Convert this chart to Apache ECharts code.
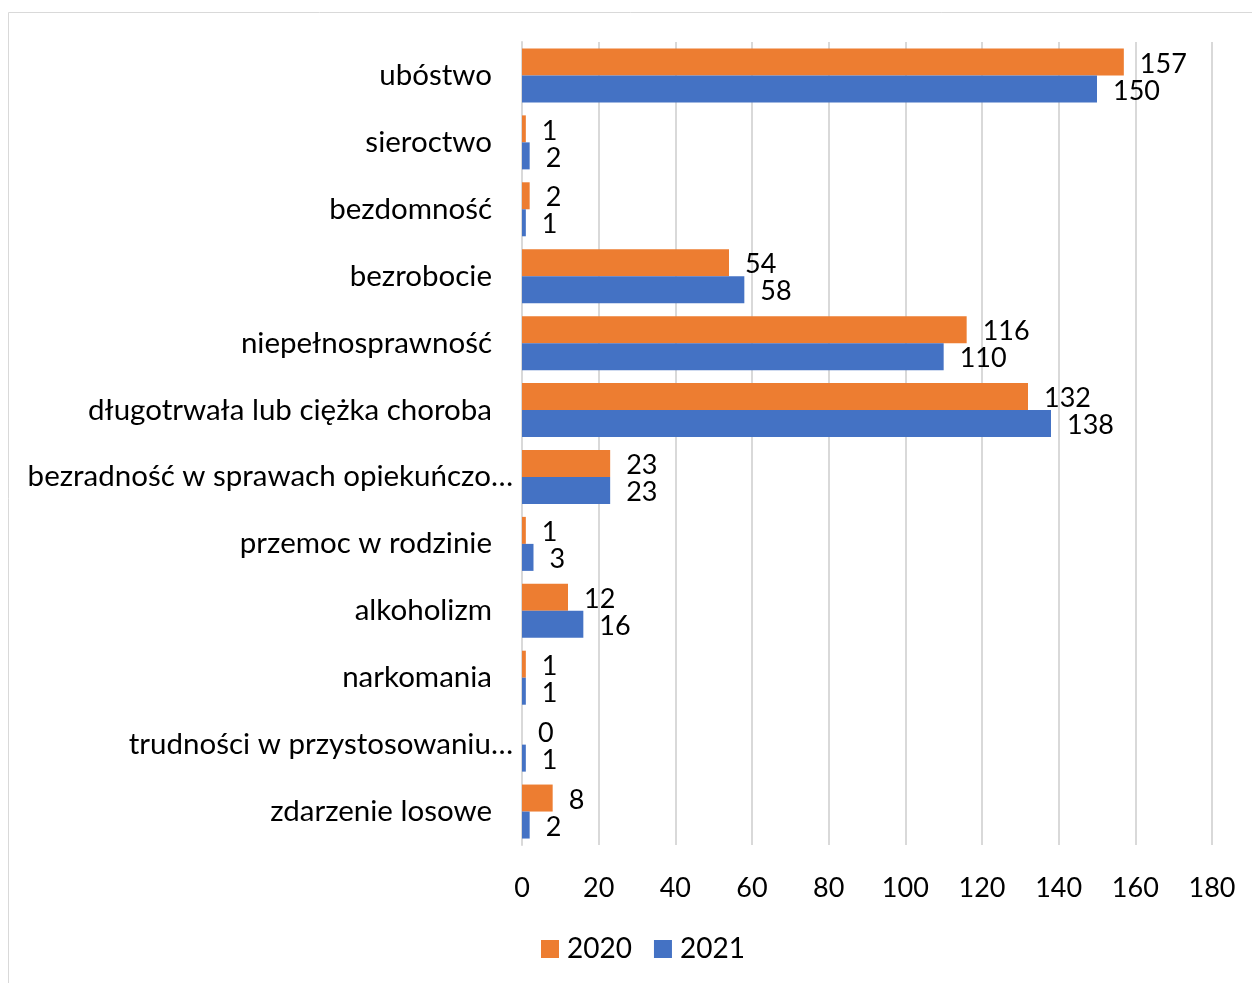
<!DOCTYPE html>
<html>
<head>
<meta charset="utf-8">
<script src="https://cdn.jsdelivr.net/npm/echarts@6/dist/echarts.min.js"></script>
<style>
  html, body { margin: 0; padding: 0; background: #fff; }
  #chart { width: 1252px; height: 983px; }
</style>
</head>
<body>
<div id="chart"></div>
<script>
// Categories top to bottom
const categories = [
    'ubóstwo',
    'sieroctwo',
    'bezdomność',
    'bezrobocie',
    'niepełnosprawność',
    'długotrwała lub ciężka choroba',
    'bezradność w sprawach opiekuńczo…',
    'przemoc w rodzinie',
    'alkoholizm',
    'narkomania',
    'trudności w przystosowaniu…',
    'zdarzenie losowe'
];
const values2020 = [157, 1, 2, 54, 116, 132, 23, 1, 12, 1, 0, 8];
const values2021 = [150, 2, 1, 58, 110, 138, 23, 3, 16, 1, 1, 2];
const xTicks = [0, 20, 40, 60, 80, 100, 120, 140, 160, 180];

const ORANGE = '#ED7D31';
const BLUE = '#4472C4';
const FONT = 'Lato';

const chart = echarts.init(document.getElementById('chart'));

const labelStyle = {
    show: true,
    position: 'right',
    distance: 16,
    offset: [0, 2],
    color: '#000',
    fontFamily: FONT,
    fontSize: 27
};

const option = {
    animation: false,
    textStyle: { fontFamily: FONT },
    graphic: [{
        type: 'rect',
        shape: { x: 8.5, y: 12.5, width: 1300, height: 1000 },
        style: { fill: 'none', stroke: '#D9D9D9', lineWidth: 1 },
        silent: true
    }],
    grid: { left: 522, right: 40, top: 42, bottom: 138 },
    legend: {
        bottom: 15,
        left: 536,
        itemWidth: 18,
        itemHeight: 18,
        itemGap: 22,
        icon: 'rect',
        textStyle: { fontSize: 28, color: '#000', fontFamily: FONT, padding: [0, 0, 0, 3] },
        data: ['2020', '2021']
    },
    xAxis: {
        type: 'value',
        min: xTicks[0],
        max: xTicks[xTicks.length - 1],
        interval: 20,
        axisLine: { show: false },
        axisTick: { show: false },
        splitLine: { lineStyle: { color: '#D9D9D9', width: 2 } },
        axisLabel: { color: '#000', fontSize: 27, fontFamily: FONT, margin: 30 }
    },
    yAxis: {
        type: 'category',
        inverse: true,
        data: categories,
        axisLine: { lineStyle: { color: '#D9D9D9', width: 2 } },
        axisTick: { show: false },
        axisLabel: {
            color: '#000',
            fontSize: 29.5,
            fontFamily: FONT,
            margin: 30,
            // truncated labels reach closer to the axis
            formatter: function (v) {
                return v.endsWith('…') ? '{t|' + v + '}' : v;
            },
            rich: {
                t: { fontSize: 29.5, fontFamily: FONT, color: '#000', padding: [0, -21, 0, 0] }
            }
        }
    },
    series: [{
        name: '2020',
        type: 'bar',
        data: values2020,
        barWidth: 27,
        barGap: '0%',
        itemStyle: { color: ORANGE },
        label: labelStyle
    }, {
        name: '2021',
        type: 'bar',
        data: values2021,
        barWidth: 27,
        itemStyle: { color: BLUE },
        label: labelStyle
    }]
};

chart.setOption(option);
</script>
</body>
</html>
